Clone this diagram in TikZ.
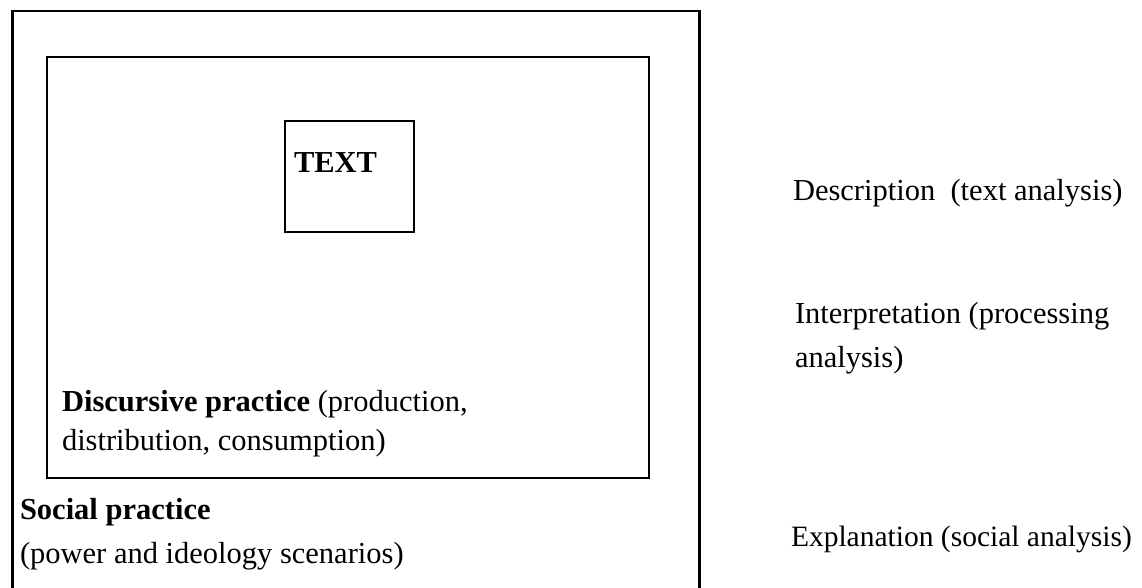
\documentclass[tikz,border=0pt]{standalone}
\usepackage{fontspec}
\setmainfont{Liberation Serif}
\tikzset{
  frame/.style={draw=black, line width=2.4pt},
  boxnode/.style={frame, inner sep=0pt, outer sep=0pt},
  lbl/.style={anchor=base west, inner sep=0pt, outer sep=0pt, font=\fontsize{30.5}{36}\selectfont},
}
\begin{document}
\begin{tikzpicture}[x=1pt,y=1pt]
\useasboundingbox (0,0) rectangle (1142,588);
% outer frame (open at the bottom)
\coordinate (oBL) at (12.5,0);
\coordinate (oTL) at (12.5,577);
\coordinate (oTR) at (699.5,577);
\coordinate (oBR) at (699.5,0);
\draw[frame] (oBL) -- (oTL) -- (oTR) -- (oBR);
% inner box (discursive practice)
\node[boxnode, minimum width=602pt, minimum height=421pt] (disc) at (348,320.5) {};
% TEXT box
\node[boxnode, minimum width=129pt, minimum height=111pt] (textbox) at (349.5,411.5) {};
\node[lbl, font=\fontsize{30.5}{36}\selectfont\bfseries] (textlbl) at (294,415) {TEXT};
% labels inside
\node[lbl] (disc1) at (62,176) {\textbf{Discursive practice} (production,};
\node[lbl] (disc2) at (62,137) {distribution, consumption)};
\node[lbl] (soc1) at (20,68) {\textbf{Social practice}};
\node[lbl] (soc2) at (20,24) {(power and ideology scenarios)};
% right column
\node[lbl] (desc) at (793,387) {Description\ \ (text analysis)};
\node[lbl] (interp1) at (795,264) {Interpretation (processing};
\node[lbl] (interp2) at (795,220) {analysis)};
\node[lbl, font=\fontsize{29.5}{36}\selectfont] (expl) at (791,41) {Explanation (social analysis)};
\end{tikzpicture}
\end{document}
